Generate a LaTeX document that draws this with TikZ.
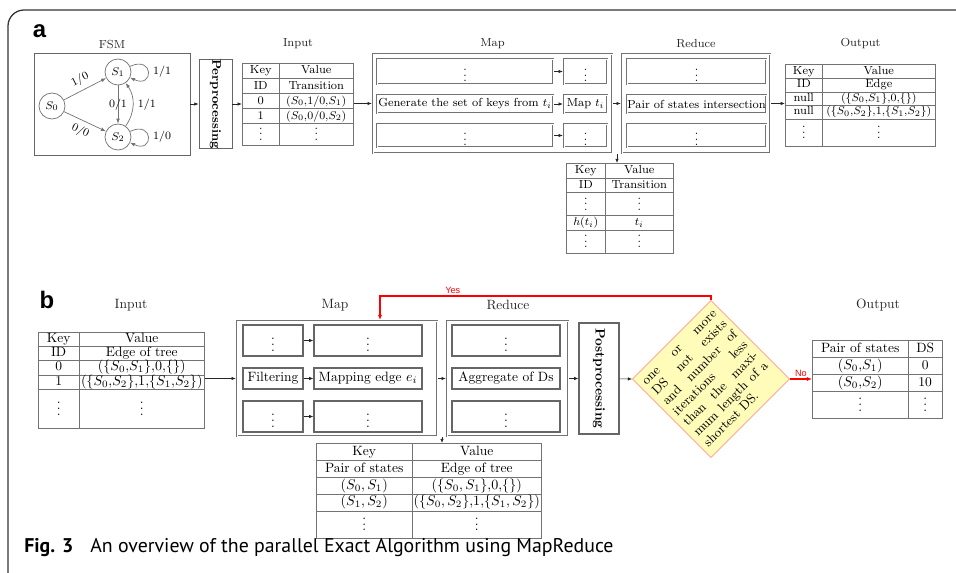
\documentclass[tikz,border=0pt]{standalone}
\usepackage{fontspec}
\usepackage{graphicx}
\usepackage{array}
\usepackage{colortbl}
\usetikzlibrary{positioning, arrows.meta, calc}

\newfontfamily\capsans{PT Sans}
\newfontfamily\tagsans{Liberation Sans}
\setlength{\tabcolsep}{1pt}
\arrayrulecolor{black!55}
\newcommand{\vdts}{\vbox{\baselineskip4pt\lineskiplimit0pt\hbox{.}\hbox{.}\hbox{.}}}
\newcommand{\vrow}[1]{\rule[\dimexpr4.4pt-#1/2\relax]{0pt}{#1}\vdts}
\newcommand{\fnta}{\fontsize{8.3}{10}\selectfont}
\newcommand{\fntb}{\fontsize{9.6}{11.5}\selectfont}

\tikzset{
  box/.style={draw=black!60, line width=0.5pt, inner sep=0pt, align=center},
  dbox/.style={box, draw=black!55, line width=1.6pt, postaction={draw=white, line width=0.5pt}},
  bbox/.style={box, line width=0.8pt},
  state/.style={circle, draw=black!55, line width=0.5pt, minimum size=0.65cm, inner sep=0pt},
  arr/.style={draw=black!85, line width=0.45pt, -{Latex[length=3pt, width=2.4pt]}},
  fsmarr/.style={draw=black!55, line width=0.5pt, -{Latex[length=3.5pt, width=2.6pt]}},
  decision/.style={draw=red, line width=0.9pt, -{Latex[length=3.5pt, width=3pt]}},
  ttl/.style={text=black!85},
  tbl/.style={inner sep=0pt, anchor=north},
  cond/.style={draw=red!50, fill=yellow!28, rotate=45, minimum size=2.775cm,
               inner sep=0pt, text width=71pt, align=justify,
               font=\fontsize{9.2}{10.4}\selectfont},
  tagfont/.style={font=\tagsans\bfseries\fontsize{17}{17}\selectfont},
  yesno/.style={font=\tagsans\fontsize{6.5}{7}\selectfont, text=red, inner sep=1pt}
}

\begin{document}
\begin{tikzpicture}[x=0.025cm, y=-0.025cm]
  \useasboundingbox (0,0) rectangle (956,573);
  \draw[black!80, line width=0.9pt, rounded corners=0.4cm] (8,573) -- (8,10) -- (956,10);

  \node[tagfont] (tagA) at (39.5,31.5) {a};
  \node[tagfont] (tagB) at (47,300) {b};

  \begin{scope}[font=\fnta]
    \node[box, minimum width=3.9cm, minimum height=2.55cm] (fsm) at (112,104) {};
    \node[ttl] (fsmT) at (112,45) {FSM};
    \node[state] (s0) at (52,106) {$S_0$};
    \node[state] (s1) at (118,72) {$S_1$};
    \node[state] (s2) at (118,137) {$S_2$};
    \draw[fsmarr] (s0) -- node[sloped, above] {$1/0$} (s1);
    \draw[fsmarr] (s0) -- node[sloped, below] {$0/0$} (s2);
    \draw[fsmarr] (s1) -- node {$0/1$} (s2);
    \draw[fsmarr] (s2) to[bend right=35] node[right] {$1/1$} (s1);
    \draw[fsmarr] (s1) to[out=25, in=-25, min distance=3mm, looseness=6] node[right] {$1/1$} (s1);
    \draw[fsmarr] (s2) to[out=25, in=-25, min distance=3mm, looseness=6] node[right] {$1/0$} (s2);

    \node[box, minimum width=0.825cm, minimum height=2.225cm,
          font=\fontsize{8.9}{10}\selectfont\bfseries] (perp) at (215.5,104)
        {\rotatebox{-90}{Perprocessing}};

    \node[tbl, font=\fontsize{8.3}{10.3}\selectfont] (inA) at (298,63) {%
      \begin{tabular}{|w{c}{23.6pt}|w{c}{50.6pt}|}\hline
        Key & Value \\\hline
        ID & Transition \\\hline
        0 & $(S_0{,}1/0{,}S_1)$ \\\hline
        1 & $(S_0{,}0/0{,}S_2)$ \\\hline
        \vrow{14.6pt} & \vdts \\\hline
      \end{tabular}};
    \node[ttl] (inAT) at (298,44) {Input};

    \node[dbox, minimum width=5.975cm, minimum height=2.475cm] (mapA) at (492.5,103.5) {};
    \node[ttl] (mapAT) at (492.5,44) {Map};
    \node[dbox, minimum width=4.4cm, minimum height=0.625cm] (mapAl1) at (465,71.5) {$\vdots$};
    \node[dbox, minimum width=1.075cm, minimum height=0.625cm] (mapAr1) at (585.5,71.5) {$\vdots$};
    \node[dbox, minimum width=4.4cm, minimum height=0.45cm] (mapAl2) at (465,104) {Generate the set of keys from $t_i$};
    \node[dbox, minimum width=1.075cm, minimum height=0.45cm] (mapAr2) at (585.5,104) {Map $t_i$};
    \node[dbox, minimum width=4.4cm, minimum height=0.575cm] (mapAl3) at (465,135.5) {$\vdots$};
    \node[dbox, minimum width=1.075cm, minimum height=0.575cm] (mapAr3) at (585.5,135.5) {$\vdots$};
    \foreach \r in {1,2,3}
      \draw[arr] (mapAl\r) -- (mapAr\r);

    \node[dbox, minimum width=3.7cm, minimum height=2.475cm] (redA) at (696,103.5) {};
    \node[ttl] (redAT) at (696,44) {Reduce};
    \node[dbox, minimum width=3.475cm, minimum height=0.625cm] (redA1) at (696.5,71.5) {$\vdots$};
    \node[dbox, minimum width=3.475cm, minimum height=0.45cm] (redA2) at (696.5,104) {Pair of states intersection};
    \node[dbox, minimum width=3.475cm, minimum height=0.575cm] (redA3) at (696.5,135.5) {$\vdots$};

    \node[tbl, font=\fontsize{8.3}{9.3}\selectfont] (outA) at (860.5,64) {%
      \begin{tabular}{|w{c}{23.6pt}|w{c}{78.3pt}|}\hline
        Key & Value \\\hline
        ID & Edge \\\hline
        null & $(\{S_0{,}S_1\}{,}0{,}\{\})$ \\\hline
        null & $(\{S_0{,}S_2\}{,}1{,}\{S_1{,}S_2\})$ \\\hline
        \vrow{19pt} & \vdts \\\hline
      \end{tabular}};
    \node[ttl] (outAT) at (860.5,44) {Output};

    \node[tbl, font=\fontsize{8.3}{9.9}\selectfont] (midA) at (620,163) {%
      \begin{tabular}{|w{c}{25pt}|w{c}{46.3pt}|}\hline
        Key & Value \\\hline
        ID & Transition \\\hline
        \vrow{16pt} & \vdts \\\hline
        $h(t_i)$ & $t_i$ \\\hline
        \vrow{16pt} & \vdts \\\hline
      \end{tabular}};

    \draw[arr] (fsm) -- (perp);
    \draw[arr] (perp.east) -- (perp.east -| inA.west);
    \draw[arr] (mapA.west -| inA.east) -- (mapA.west);
    \draw[arr] (mapA) -- (redA);
    \draw[arr] (redA.east) -- (redA.east -| outA.west);
    \coordinate (splitA) at ($(mapA.south east)!0.5!(redA.south west)$);
    \draw[arr] (splitA) -- (splitA |- midA.north);
  \end{scope}

  \begin{scope}[font=\fntb]
    \node[tbl, font=\fontsize{9.6}{8.8}\selectfont] (inB) at (121.5,332) {%
      \begin{tabular}{|w{c}{26.4pt}|w{c}{86.9pt}|}\hline
        Key & Value \\\hline
        ID & Edge of tree \\\hline
        0 & $(\{S_0{,}S_1\}{,}0{,}\{\})$ \\\hline
        1 & $(\{S_0{,}S_2\}{,}1{,}\{S_1{,}S_2\})$ \\\hline
        \vrow{27pt} & \vdts \\\hline
      \end{tabular}};
    \node[ttl] (inBT) at (131,305) {Input};

    \node[dbox, minimum width=5cm, minimum height=2.875cm] (mapB) at (337,378.5) {};
    \node[ttl] (mapBT) at (335,305) {Map};
    \node[bbox, minimum width=1.5cm, minimum height=0.775cm] (mapBl1) at (273,340.5) {$\vdots$};
    \node[bbox, minimum width=2.7cm, minimum height=0.775cm] (mapBr1) at (368,340.5) {$\vdots$};
    \node[bbox, minimum width=1.5cm, minimum height=0.525cm] (mapBl2) at (273,378.5) {Filtering};
    \node[bbox, minimum width=2.7cm, minimum height=0.525cm] (mapBr2) at (368,378.5) {Mapping edge $e_i$};
    \node[bbox, minimum width=1.5cm, minimum height=0.775cm] (mapBl3) at (273,416.5) {$\vdots$};
    \node[bbox, minimum width=2.7cm, minimum height=0.775cm] (mapBr3) at (368,416.5) {$\vdots$};
    \foreach \r in {1,2,3}
      \draw[arr] (mapBl\r) -- (mapBr\r);

    \node[dbox, minimum width=3.025cm, minimum height=2.875cm] (redB) at (507.5,378.5) {};
    \node[ttl] (redBT) at (508,305) {Reduce};
    \node[bbox, minimum width=2.7cm, minimum height=0.775cm] (redB1) at (506,340.5) {$\vdots$};
    \node[bbox, minimum width=2.7cm, minimum height=0.525cm] (redB2) at (506,378.5) {Aggregate of Ds};
    \node[bbox, minimum width=2.7cm, minimum height=0.775cm] (redB3) at (506,416.5) {$\vdots$};

    \node[bbox, minimum width=1cm, minimum height=2.775cm, font=\fntb\bfseries] (post) at (599,378.5)
        {\rotatebox{-90}{Postprocessing}};

    \node[cond] (cond) at (711,379)
        {one or more\linebreak DS not exists\linebreak and number of\linebreak iterations less\linebreak
         than the maxi-\linebreak mum length of a\linebreak shortest DS.};

    \node[tbl, font=\fontsize{9.6}{11.6}\selectfont] (outB) at (877.5,340) {%
      \begin{tabular}{|w{c}{65.5pt}|w{c}{22.2pt}|}\hline
        Pair of states & DS \\\hline
        $(S_0{,}S_1)$ & 0 \\\hline
        $(S_0{,}S_2)$ & 10 \\\hline
        \vrow{19pt} & \vdts \\\hline
      \end{tabular}};
    \node[ttl] (outBT) at (878,305) {Output};

    \node[tbl, font=\fontsize{9.6}{11.6}\selectfont] (midB) at (429,443) {%
      \begin{tabular}{|w{c}{65.5pt}|w{c}{89.7pt}|}\hline
        Key & Value \\\hline
        Pair of states & Edge of tree \\\hline
        $(S_0, S_1)$ & $(\{S_0, S_1\}{,}0{,}\{\})$ \\\hline
        $(S_1, S_2)$ & $(\{S_0, S_2\}{,}1{,}\{S_1, S_2\})$ \\\hline
        \vrow{19pt} & \vdts \\\hline
      \end{tabular}};

    \draw[arr] (mapB.west -| inB.east) -- (mapB.west);
    \draw[arr] (mapB) -- (redB);
    \draw[arr] (redB) -- (post);
    \draw[arr] (post) -- (cond.north west);
    \coordinate (splitB) at ($(mapB.south east)!0.5!(redB.south west)$);
    \draw[arr] (splitB) -- (splitB |- midB.north);
    \draw[decision] (cond.north east) -- ++(0,-4) -| node[pos=0.39, above, yesno] {Yes} ([xshift=1.075cm]mapB.north);
    \draw[decision] (cond.south east) -- node[above, yesno] {No} (cond.south east -| outB.west);
  \end{scope}

  \node[anchor=base west, inner sep=0pt, font=\capsans\fontsize{14.1}{16}\selectfont] (caption) at (24,552)
      {\textbf{Fig.\hspace{5pt}3}\hspace{12pt}An overview of the parallel Exact Algorithm using MapReduce};
\end{tikzpicture}
\end{document}
